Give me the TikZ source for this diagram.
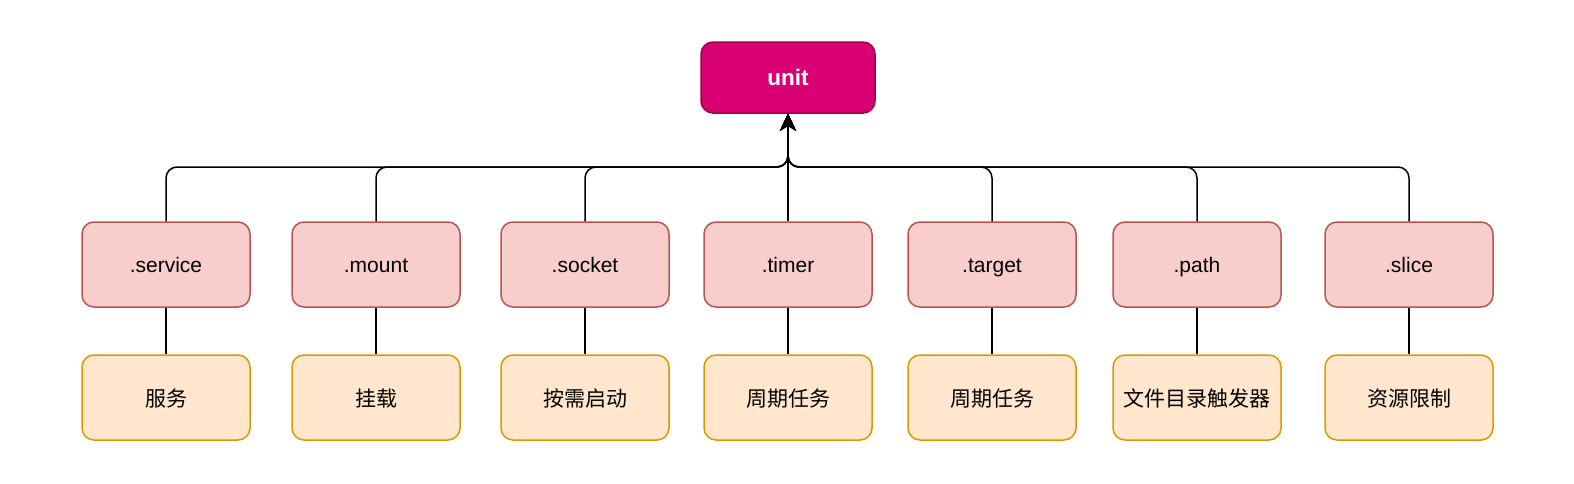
\documentclass[tikz,border=0pt]{standalone}
\usepackage{fontspec}
\setmainfont{Liberation Sans}
\newfontfamily\cjk{Noto Sans CJK SC}
\usetikzlibrary{arrows.meta}
\definecolor{unitfill}{HTML}{D80073}
\definecolor{unitline}{HTML}{A50040}
\definecolor{redfill}{HTML}{F8CECC}
\definecolor{redline}{HTML}{B85450}
\definecolor{orfill}{HTML}{FFE6CC}
\definecolor{orline}{HTML}{D79B00}
\begin{document}
\begin{tikzpicture}[x=1pt,y=-1pt,
  box/.style={rounded corners=12pt, line width=1.5pt, minimum width=168pt, minimum height=85pt, inner sep=0pt, text height=19pt, text depth=4pt, font=\fontsize{21}{25}\selectfont},
  typebox/.style={box, draw=redline, fill=redfill},
  descbox/.style={box, draw=orline, fill=orfill, text height=22pt, text depth=3.5pt, font=\fontsize{21}{25}\selectfont\cjk},
  unitbox/.style={rounded corners=12pt, line width=1.5pt, draw=unitline, fill=unitfill, minimum width=174pt, minimum height=71pt, inner sep=0pt, text=white, text height=21pt, text depth=4.5pt, font=\fontsize{22.5}{26}\selectfont\bfseries},
  conn/.style={line width=1.5pt, rounded corners=11pt},
  arr/.style={conn, -{Stealth[length=17pt,width=16pt,inset=5pt]}}
]
\useasboundingbox (0,0) rectangle (1574,483);
\node[unitbox] (u) at (788,77.5) {unit};
\coordinate (bus) at (788,167);
\foreach \n/\x/\t/\d in {s/166/.service/服务, m/376/.mount/挂载, k/585/.socket/按需启动, t/788/.timer/周期任务, g/992/.target/周期任务, p/1197/.path/文件目录触发器, l/1409/.slice/资源限制}{
  \node[typebox] (\n) at (\x,264.5) {\t};
  \node[descbox] (\n2) at (\x,397.5) {\d};
  \draw[conn] (\n.south) -- (\n2.north);
}
\foreach \n in {s,m,k,g,p,l}{
  \draw[arr] (\n.north) |- (bus) -- (u.south);
}
\draw[arr] (t.north) -- (u.south);
\end{tikzpicture}
\end{document}
